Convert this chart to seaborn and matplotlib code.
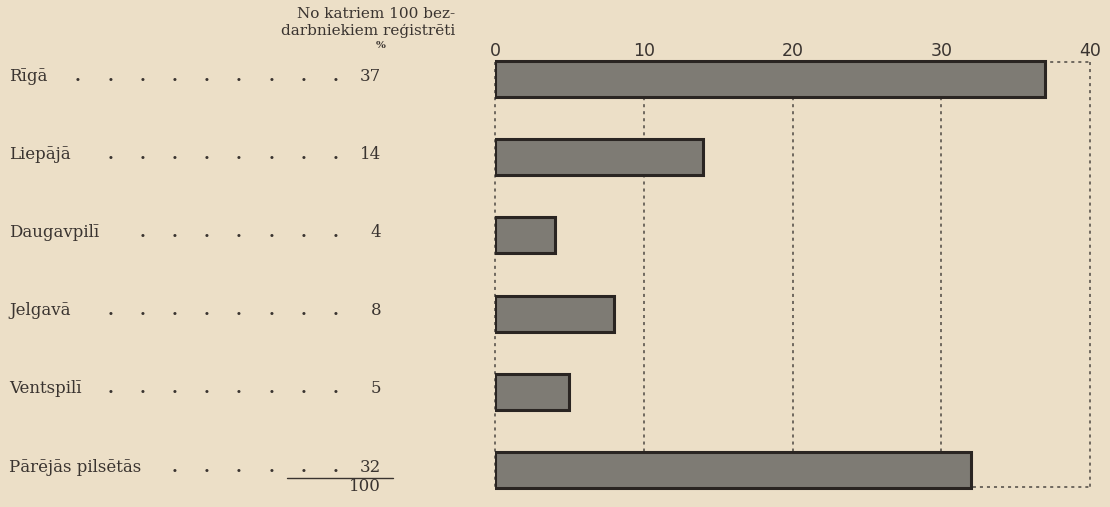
import matplotlib
matplotlib.use("Agg")
import matplotlib.pyplot as plt
import matplotlib.transforms as mtransforms
from matplotlib.lines import Line2D
import seaborn as sns
import pandas as pd

# Share of registered unemployed by town (per 100 unemployed)
cities = ["Rīgā", "Liepājā", "Daugavpilī", "Jelgavā", "Ventspilī", "Pārējās pilsētās"]
shares = [37, 14, 4, 8, 5, 32]
total = 100
tick_values = [0, 10, 20, 30, 40]
tick_labels = ["0", "10", "20", "30", "40"]
header_lines = ["No katriem 100 bez-", "darbniekiem reģistrēti"]
unit_label = "%"

# layout
W, H = 1110, 507
PAPER = "#ECDFC7"
INK = "#3a3430"
BAR_FILL = "#7e7b74"
BAR_EDGE = "#2a2522"
GRID = "#4d4843"
leader_cols = [78 + 32.2 * k for k in range(9)]
leader_start = [0, 1, 2, 1, 1, 3]

sns.set_theme(style="white")
plt.rcParams["font.family"] = ["DejaVu Serif", "DejaVu Sans"]

fig = plt.figure(figsize=(W / 100, H / 100), dpi=100, facecolor=PAPER)


def fx(px):
    return px / W


def fy(py):
    return 1 - py / H


ax_top, ax_bot = 55.5, 493.5
ax = fig.add_axes([fx(495), fy(ax_bot), fx(1090) - fx(495), (ax_bot - ax_top) / H])
ax.set_facecolor("none")

df = pd.DataFrame({"city": cities, "share": shares})
sns.barplot(data=df, x="share", y="city", orient="h", width=0.46,
            color=BAR_FILL, saturation=1, edgecolor=BAR_EDGE, linewidth=2.2,
            ax=ax, zorder=3)
ax.set_xlim(0, 40)
ax.set_ylim(5.3, -0.3)

# dashed frame and grid behind the bars
y_top, y_bot = -0.22, 5.22
dash = (0, (2.0, 2.6))
ax.vlines(tick_values, y_top, y_bot, colors=GRID, linewidth=1.1,
          linestyles=[dash], zorder=1, clip_on=False)
ax.hlines([y_top, y_bot], 0, 40, colors=GRID, linewidth=1.1,
          linestyles=[dash], zorder=1, clip_on=False)

# scale along the top
ax.xaxis.tick_top()
ax.set_xticks(tick_values)
ax.set_xticklabels(tick_labels, fontfamily="DejaVu Sans",
                   fontsize=12.5, color=INK)
ax.tick_params(axis="x", length=0, pad=-3)
ax.set_yticks([])
ax.set_xlabel("")
ax.set_ylabel("")
for s in ax.spines.values():
    s.set_visible(False)

# left-hand table: town, leader dots, percentage
trans = mtransforms.blended_transform_factory(fig.transFigure, ax.transData)
fs = 12
for i, (city, val) in enumerate(zip(cities, shares)):
    yb = i + 0.02
    ax.text(fx(9), yb, city, transform=trans, ha="left", va="baseline",
            fontsize=fs, color=INK, clip_on=False)
    for cx in leader_cols[leader_start[i]:]:
        ax.text(fx(cx), yb, ".", transform=trans, ha="center", va="baseline",
                fontsize=fs, fontweight="bold", color=INK, clip_on=False)
    ax.text(fx(381), yb, str(val), transform=trans, ha="right", va="baseline",
            fontsize=fs, color=INK, clip_on=False)

# column header
hfs = 11
fig.text(fx(455), fy(18), header_lines[0], ha="right", va="baseline",
         fontsize=hfs, color=INK)
fig.text(fx(455), fy(34.5), header_lines[1], ha="right", va="baseline",
         fontsize=hfs, color=INK)
fig.text(fx(381), fy(45), unit_label, ha="center", va="center",
         fontsize=7.5, fontweight="bold", color=INK)

# sum line and total
fig.add_artist(Line2D([fx(287), fx(393)], [fy(478), fy(478)],
                      color=INK, linewidth=1.0))
fig.text(fx(381), fy(491), str(total), ha="right", va="baseline",
         fontsize=fs, color=INK)

fig.savefig("out.png", dpi=100, facecolor=PAPER)
